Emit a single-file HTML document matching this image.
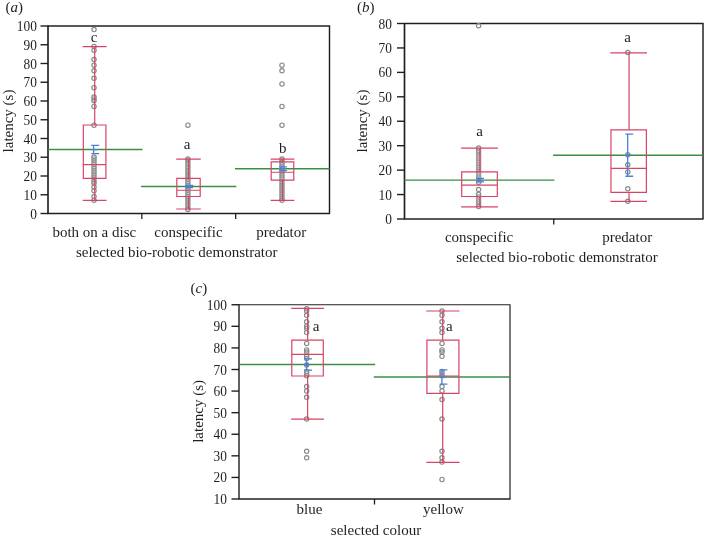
<!DOCTYPE html>
<html><head><meta charset="utf-8"><title>figure</title>
<style>
html,body{margin:0;padding:0;background:#fff;}
body{width:705px;height:538px;overflow:hidden;}
svg{display:block;font-family:"Liberation Serif",serif;fill:#231f20;}
</style></head><body>
<svg width="705" height="538" viewBox="0 0 705 538">
<defs><filter id="sf" x="0" y="0" width="705" height="538" filterUnits="userSpaceOnUse"><feGaussianBlur stdDeviation="0.35"/></filter></defs>
<rect width="705" height="538" fill="#ffffff"/>
<g filter="url(#sf)">
<path d="M48 26H329.5V213.5" fill="none" stroke="#231f20" stroke-width="1.45"/>
<path d="M48 25.5V213.5H330.0" fill="none" stroke="#231f20" stroke-width="1.65"/>
<path d="M40.5 213.50H48" stroke="#231f20" stroke-width="1.4"/>
<text transform="translate(36.9 218.50) scale(0.905 1)" font-size="14.8" text-anchor="end">0</text>
<path d="M40.5 194.75H48" stroke="#231f20" stroke-width="1.4"/>
<text transform="translate(36.9 199.75) scale(0.905 1)" font-size="14.8" text-anchor="end">10</text>
<path d="M40.5 176.00H48" stroke="#231f20" stroke-width="1.4"/>
<text transform="translate(36.9 181.00) scale(0.905 1)" font-size="14.8" text-anchor="end">20</text>
<path d="M40.5 157.25H48" stroke="#231f20" stroke-width="1.4"/>
<text transform="translate(36.9 162.25) scale(0.905 1)" font-size="14.8" text-anchor="end">30</text>
<path d="M40.5 138.50H48" stroke="#231f20" stroke-width="1.4"/>
<text transform="translate(36.9 143.50) scale(0.905 1)" font-size="14.8" text-anchor="end">40</text>
<path d="M40.5 119.75H48" stroke="#231f20" stroke-width="1.4"/>
<text transform="translate(36.9 124.75) scale(0.905 1)" font-size="14.8" text-anchor="end">50</text>
<path d="M40.5 101.00H48" stroke="#231f20" stroke-width="1.4"/>
<text transform="translate(36.9 106.00) scale(0.905 1)" font-size="14.8" text-anchor="end">60</text>
<path d="M40.5 82.25H48" stroke="#231f20" stroke-width="1.4"/>
<text transform="translate(36.9 87.25) scale(0.905 1)" font-size="14.8" text-anchor="end">70</text>
<path d="M40.5 63.50H48" stroke="#231f20" stroke-width="1.4"/>
<text transform="translate(36.9 68.50) scale(0.905 1)" font-size="14.8" text-anchor="end">80</text>
<path d="M40.5 44.75H48" stroke="#231f20" stroke-width="1.4"/>
<text transform="translate(36.9 49.75) scale(0.905 1)" font-size="14.8" text-anchor="end">90</text>
<path d="M40.5 26.00H48" stroke="#231f20" stroke-width="1.4"/>
<text transform="translate(36.9 31.00) scale(0.905 1)" font-size="14.8" text-anchor="end">100</text>
<path d="M141.83 213.5V219.0" stroke="#231f20" stroke-width="1.3"/>
<path d="M235.67 213.5V219.0" stroke="#231f20" stroke-width="1.3"/>
<text x="5.5" y="11.8" font-size="15">(<tspan font-style="italic">a</tspan>)</text>
<text transform="translate(12.5 121) rotate(-90)" font-size="15" text-anchor="middle">latency (s)</text>
<text x="176.7" y="256.5" font-size="15" text-anchor="middle">selected bio-robotic demonstrator</text>
<text x="94.3" y="236.5" font-size="15" text-anchor="middle">both on a disc</text>
<path d="M48.00 149.56H142.53" stroke="#3a8f44" stroke-width="1.45"/>
<circle cx="94.02" cy="29.55" r="2.15" fill="none" stroke="#8a8a8a" stroke-width="1.2"/>
<circle cx="94.02" cy="46.42" r="2.15" fill="none" stroke="#8a8a8a" stroke-width="1.2"/>
<circle cx="94.02" cy="50.17" r="2.15" fill="none" stroke="#8a8a8a" stroke-width="1.2"/>
<circle cx="94.02" cy="59.55" r="2.15" fill="none" stroke="#8a8a8a" stroke-width="1.2"/>
<circle cx="94.02" cy="65.17" r="2.15" fill="none" stroke="#8a8a8a" stroke-width="1.2"/>
<circle cx="94.02" cy="70.80" r="2.15" fill="none" stroke="#8a8a8a" stroke-width="1.2"/>
<circle cx="94.02" cy="78.30" r="2.15" fill="none" stroke="#8a8a8a" stroke-width="1.2"/>
<circle cx="94.02" cy="87.67" r="2.15" fill="none" stroke="#8a8a8a" stroke-width="1.2"/>
<circle cx="94.02" cy="97.05" r="2.15" fill="none" stroke="#8a8a8a" stroke-width="1.2"/>
<circle cx="94.02" cy="98.92" r="2.15" fill="none" stroke="#8a8a8a" stroke-width="1.2" stroke-opacity="0.75"/>
<circle cx="94.02" cy="100.80" r="2.15" fill="none" stroke="#8a8a8a" stroke-width="1.2"/>
<circle cx="94.02" cy="106.42" r="2.15" fill="none" stroke="#8a8a8a" stroke-width="1.2"/>
<circle cx="94.02" cy="125.17" r="2.15" fill="none" stroke="#8a8a8a" stroke-width="1.2"/>
<circle cx="94.02" cy="157.05" r="2.15" fill="none" stroke="#8a8a8a" stroke-width="1.2"/>
<circle cx="94.02" cy="158.93" r="2.15" fill="none" stroke="#8a8a8a" stroke-width="1.2" stroke-opacity="0.75"/>
<circle cx="94.02" cy="160.80" r="2.15" fill="none" stroke="#8a8a8a" stroke-width="1.2" stroke-opacity="0.75"/>
<circle cx="94.02" cy="162.68" r="2.15" fill="none" stroke="#8a8a8a" stroke-width="1.2" stroke-opacity="0.75"/>
<circle cx="94.02" cy="164.55" r="2.15" fill="none" stroke="#8a8a8a" stroke-width="1.2" stroke-opacity="0.75"/>
<circle cx="94.02" cy="166.43" r="2.15" fill="none" stroke="#8a8a8a" stroke-width="1.2" stroke-opacity="0.75"/>
<circle cx="94.02" cy="168.30" r="2.15" fill="none" stroke="#8a8a8a" stroke-width="1.2" stroke-opacity="0.75"/>
<circle cx="94.02" cy="170.18" r="2.15" fill="none" stroke="#8a8a8a" stroke-width="1.2" stroke-opacity="0.75"/>
<circle cx="94.02" cy="172.05" r="2.15" fill="none" stroke="#8a8a8a" stroke-width="1.2" stroke-opacity="0.75"/>
<circle cx="94.02" cy="173.93" r="2.15" fill="none" stroke="#8a8a8a" stroke-width="1.2" stroke-opacity="0.75"/>
<circle cx="94.02" cy="175.80" r="2.15" fill="none" stroke="#8a8a8a" stroke-width="1.2" stroke-opacity="0.75"/>
<circle cx="94.02" cy="177.68" r="2.15" fill="none" stroke="#8a8a8a" stroke-width="1.2" stroke-opacity="0.75"/>
<circle cx="94.02" cy="179.55" r="2.15" fill="none" stroke="#8a8a8a" stroke-width="1.2" stroke-opacity="0.75"/>
<circle cx="94.02" cy="181.43" r="2.15" fill="none" stroke="#8a8a8a" stroke-width="1.2" stroke-opacity="0.75"/>
<circle cx="94.02" cy="183.30" r="2.15" fill="none" stroke="#8a8a8a" stroke-width="1.2"/>
<circle cx="94.02" cy="187.05" r="2.15" fill="none" stroke="#8a8a8a" stroke-width="1.2"/>
<circle cx="94.02" cy="190.80" r="2.15" fill="none" stroke="#8a8a8a" stroke-width="1.2"/>
<circle cx="94.02" cy="196.43" r="2.15" fill="none" stroke="#8a8a8a" stroke-width="1.2"/>
<circle cx="94.02" cy="200.18" r="2.15" fill="none" stroke="#8a8a8a" stroke-width="1.2"/>
<path d="M83.32 125.00H105.92V178.44H83.32Z M83.32 164.56H105.92 M82.72 46.62H106.52 M82.72 200.38H106.52 M94.72 46.62V125.00 M94.72 178.44V200.38" fill="none" stroke="#d64566" stroke-width="1.2"/>
<path d="M93.62 145.44V153.69 M91.32 145.44H99.12 M91.32 153.69H99.12 M91.62 149.56H97.62" fill="none" stroke="#4a80d8" stroke-width="1.3"/>
<text x="94" y="41.8" font-size="15" text-anchor="middle">c</text>
<text x="188.5" y="236.5" font-size="15" text-anchor="middle">conspecific</text>
<path d="M141.13 186.50H236.37" stroke="#3a8f44" stroke-width="1.45"/>
<circle cx="187.90" cy="125.17" r="2.15" fill="none" stroke="#8a8a8a" stroke-width="1.2"/>
<circle cx="187.90" cy="158.93" r="2.15" fill="none" stroke="#8a8a8a" stroke-width="1.2"/>
<circle cx="187.90" cy="160.80" r="2.15" fill="none" stroke="#8a8a8a" stroke-width="1.2" stroke-opacity="0.75"/>
<circle cx="187.90" cy="162.68" r="2.15" fill="none" stroke="#8a8a8a" stroke-width="1.2" stroke-opacity="0.75"/>
<circle cx="187.90" cy="164.55" r="2.15" fill="none" stroke="#8a8a8a" stroke-width="1.2" stroke-opacity="0.75"/>
<circle cx="187.90" cy="166.43" r="2.15" fill="none" stroke="#8a8a8a" stroke-width="1.2" stroke-opacity="0.75"/>
<circle cx="187.90" cy="168.30" r="2.15" fill="none" stroke="#8a8a8a" stroke-width="1.2" stroke-opacity="0.75"/>
<circle cx="187.90" cy="170.18" r="2.15" fill="none" stroke="#8a8a8a" stroke-width="1.2" stroke-opacity="0.75"/>
<circle cx="187.90" cy="172.05" r="2.15" fill="none" stroke="#8a8a8a" stroke-width="1.2" stroke-opacity="0.75"/>
<circle cx="187.90" cy="173.93" r="2.15" fill="none" stroke="#8a8a8a" stroke-width="1.2" stroke-opacity="0.75"/>
<circle cx="187.90" cy="175.80" r="2.15" fill="none" stroke="#8a8a8a" stroke-width="1.2" stroke-opacity="0.75"/>
<circle cx="187.90" cy="177.68" r="2.15" fill="none" stroke="#8a8a8a" stroke-width="1.2" stroke-opacity="0.75"/>
<circle cx="187.90" cy="179.55" r="2.15" fill="none" stroke="#8a8a8a" stroke-width="1.2" stroke-opacity="0.75"/>
<circle cx="187.90" cy="181.43" r="2.15" fill="none" stroke="#8a8a8a" stroke-width="1.2" stroke-opacity="0.75"/>
<circle cx="187.90" cy="183.30" r="2.15" fill="none" stroke="#8a8a8a" stroke-width="1.2" stroke-opacity="0.75"/>
<circle cx="187.90" cy="185.18" r="2.15" fill="none" stroke="#8a8a8a" stroke-width="1.2" stroke-opacity="0.75"/>
<circle cx="187.90" cy="187.05" r="2.15" fill="none" stroke="#8a8a8a" stroke-width="1.2" stroke-opacity="0.75"/>
<circle cx="187.90" cy="188.93" r="2.15" fill="none" stroke="#8a8a8a" stroke-width="1.2" stroke-opacity="0.75"/>
<circle cx="187.90" cy="190.80" r="2.15" fill="none" stroke="#8a8a8a" stroke-width="1.2" stroke-opacity="0.75"/>
<circle cx="187.90" cy="192.68" r="2.15" fill="none" stroke="#8a8a8a" stroke-width="1.2" stroke-opacity="0.75"/>
<circle cx="187.90" cy="194.55" r="2.15" fill="none" stroke="#8a8a8a" stroke-width="1.2" stroke-opacity="0.75"/>
<circle cx="187.90" cy="196.43" r="2.15" fill="none" stroke="#8a8a8a" stroke-width="1.2" stroke-opacity="0.75"/>
<circle cx="187.90" cy="198.30" r="2.15" fill="none" stroke="#8a8a8a" stroke-width="1.2" stroke-opacity="0.75"/>
<circle cx="187.90" cy="200.18" r="2.15" fill="none" stroke="#8a8a8a" stroke-width="1.2" stroke-opacity="0.75"/>
<circle cx="187.90" cy="202.05" r="2.15" fill="none" stroke="#8a8a8a" stroke-width="1.2" stroke-opacity="0.75"/>
<circle cx="187.90" cy="203.93" r="2.15" fill="none" stroke="#8a8a8a" stroke-width="1.2" stroke-opacity="0.75"/>
<circle cx="187.90" cy="205.80" r="2.15" fill="none" stroke="#8a8a8a" stroke-width="1.2" stroke-opacity="0.75"/>
<circle cx="187.90" cy="207.68" r="2.15" fill="none" stroke="#8a8a8a" stroke-width="1.2" stroke-opacity="0.75"/>
<circle cx="187.90" cy="209.55" r="2.15" fill="none" stroke="#8a8a8a" stroke-width="1.2"/>
<path d="M176.80 178.44H200.20V196.49H176.80Z M176.80 190.25H200.20 M176.20 159.12H200.80 M176.20 209.00H200.80 M188.60 159.12V178.44 M188.60 196.49V209.00" fill="none" stroke="#d64566" stroke-width="1.2"/>
<path d="M187.50 185.38V187.62 M185.20 185.38H193.00 M185.20 187.62H193.00 M185.50 186.50H191.50" fill="none" stroke="#4a80d8" stroke-width="1.3"/>
<text x="187" y="148.9" font-size="15" text-anchor="middle">a</text>
<text x="281.3" y="236.5" font-size="15" text-anchor="middle">predator</text>
<path d="M234.97 168.69H329.50" stroke="#3a8f44" stroke-width="1.45"/>
<circle cx="281.98" cy="65.17" r="2.15" fill="none" stroke="#8a8a8a" stroke-width="1.2"/>
<circle cx="281.98" cy="70.80" r="2.15" fill="none" stroke="#8a8a8a" stroke-width="1.2"/>
<circle cx="281.98" cy="83.92" r="2.15" fill="none" stroke="#8a8a8a" stroke-width="1.2"/>
<circle cx="281.98" cy="106.42" r="2.15" fill="none" stroke="#8a8a8a" stroke-width="1.2"/>
<circle cx="281.98" cy="125.17" r="2.15" fill="none" stroke="#8a8a8a" stroke-width="1.2"/>
<circle cx="281.98" cy="158.93" r="2.15" fill="none" stroke="#8a8a8a" stroke-width="1.2"/>
<circle cx="281.98" cy="160.80" r="2.15" fill="none" stroke="#8a8a8a" stroke-width="1.2" stroke-opacity="0.75"/>
<circle cx="281.98" cy="162.68" r="2.15" fill="none" stroke="#8a8a8a" stroke-width="1.2" stroke-opacity="0.75"/>
<circle cx="281.98" cy="164.55" r="2.15" fill="none" stroke="#8a8a8a" stroke-width="1.2" stroke-opacity="0.75"/>
<circle cx="281.98" cy="166.43" r="2.15" fill="none" stroke="#8a8a8a" stroke-width="1.2" stroke-opacity="0.75"/>
<circle cx="281.98" cy="168.30" r="2.15" fill="none" stroke="#8a8a8a" stroke-width="1.2" stroke-opacity="0.75"/>
<circle cx="281.98" cy="170.18" r="2.15" fill="none" stroke="#8a8a8a" stroke-width="1.2" stroke-opacity="0.75"/>
<circle cx="281.98" cy="172.05" r="2.15" fill="none" stroke="#8a8a8a" stroke-width="1.2" stroke-opacity="0.75"/>
<circle cx="281.98" cy="173.93" r="2.15" fill="none" stroke="#8a8a8a" stroke-width="1.2" stroke-opacity="0.75"/>
<circle cx="281.98" cy="175.80" r="2.15" fill="none" stroke="#8a8a8a" stroke-width="1.2" stroke-opacity="0.75"/>
<circle cx="281.98" cy="177.68" r="2.15" fill="none" stroke="#8a8a8a" stroke-width="1.2" stroke-opacity="0.75"/>
<circle cx="281.98" cy="179.55" r="2.15" fill="none" stroke="#8a8a8a" stroke-width="1.2" stroke-opacity="0.75"/>
<circle cx="281.98" cy="181.43" r="2.15" fill="none" stroke="#8a8a8a" stroke-width="1.2" stroke-opacity="0.75"/>
<circle cx="281.98" cy="183.30" r="2.15" fill="none" stroke="#8a8a8a" stroke-width="1.2" stroke-opacity="0.75"/>
<circle cx="281.98" cy="185.18" r="2.15" fill="none" stroke="#8a8a8a" stroke-width="1.2" stroke-opacity="0.75"/>
<circle cx="281.98" cy="187.05" r="2.15" fill="none" stroke="#8a8a8a" stroke-width="1.2" stroke-opacity="0.75"/>
<circle cx="281.98" cy="188.93" r="2.15" fill="none" stroke="#8a8a8a" stroke-width="1.2" stroke-opacity="0.75"/>
<circle cx="281.98" cy="190.80" r="2.15" fill="none" stroke="#8a8a8a" stroke-width="1.2" stroke-opacity="0.75"/>
<circle cx="281.98" cy="192.68" r="2.15" fill="none" stroke="#8a8a8a" stroke-width="1.2" stroke-opacity="0.75"/>
<circle cx="281.98" cy="194.55" r="2.15" fill="none" stroke="#8a8a8a" stroke-width="1.2" stroke-opacity="0.75"/>
<circle cx="281.98" cy="196.43" r="2.15" fill="none" stroke="#8a8a8a" stroke-width="1.2" stroke-opacity="0.75"/>
<circle cx="281.98" cy="198.30" r="2.15" fill="none" stroke="#8a8a8a" stroke-width="1.2" stroke-opacity="0.75"/>
<circle cx="281.98" cy="200.18" r="2.15" fill="none" stroke="#8a8a8a" stroke-width="1.2"/>
<path d="M271.18 161.94H293.78V180.22H271.18Z M271.18 172.25H293.78 M270.58 159.12H294.38 M270.58 200.38H294.38 M282.48 159.12V161.94 M282.48 180.22V200.38" fill="none" stroke="#d64566" stroke-width="1.2"/>
<path d="M281.48 166.81V170.56 M279.18 166.81H286.98 M279.18 170.56H286.98 M279.48 168.69H285.48" fill="none" stroke="#4a80d8" stroke-width="1.3"/>
<text x="282.7" y="153.3" font-size="15" text-anchor="middle">b</text>
<path d="M404.5 23.5H703V219" fill="none" stroke="#231f20" stroke-width="1.45"/>
<path d="M404.5 23.0V219H703.5" fill="none" stroke="#231f20" stroke-width="1.65"/>
<path d="M397.0 219.00H404.5" stroke="#231f20" stroke-width="1.4"/>
<text transform="translate(391.9 224.00) scale(0.905 1)" font-size="14.8" text-anchor="end">0</text>
<path d="M397.0 194.56H404.5" stroke="#231f20" stroke-width="1.4"/>
<text transform="translate(391.9 199.56) scale(0.905 1)" font-size="14.8" text-anchor="end">10</text>
<path d="M397.0 170.12H404.5" stroke="#231f20" stroke-width="1.4"/>
<text transform="translate(391.9 175.12) scale(0.905 1)" font-size="14.8" text-anchor="end">20</text>
<path d="M397.0 145.69H404.5" stroke="#231f20" stroke-width="1.4"/>
<text transform="translate(391.9 150.69) scale(0.905 1)" font-size="14.8" text-anchor="end">30</text>
<path d="M397.0 121.25H404.5" stroke="#231f20" stroke-width="1.4"/>
<text transform="translate(391.9 126.25) scale(0.905 1)" font-size="14.8" text-anchor="end">40</text>
<path d="M397.0 96.81H404.5" stroke="#231f20" stroke-width="1.4"/>
<text transform="translate(391.9 101.81) scale(0.905 1)" font-size="14.8" text-anchor="end">50</text>
<path d="M397.0 72.38H404.5" stroke="#231f20" stroke-width="1.4"/>
<text transform="translate(391.9 77.38) scale(0.905 1)" font-size="14.8" text-anchor="end">60</text>
<path d="M397.0 47.94H404.5" stroke="#231f20" stroke-width="1.4"/>
<text transform="translate(391.9 52.94) scale(0.905 1)" font-size="14.8" text-anchor="end">70</text>
<path d="M397.0 23.50H404.5" stroke="#231f20" stroke-width="1.4"/>
<text transform="translate(391.9 28.50) scale(0.905 1)" font-size="14.8" text-anchor="end">80</text>
<path d="M553.75 219V224.5" stroke="#231f20" stroke-width="1.3"/>
<text x="357" y="11.8" font-size="15">(<tspan font-style="italic">b</tspan>)</text>
<text transform="translate(366.8 121) rotate(-90)" font-size="15" text-anchor="middle">latency (s)</text>
<text x="557" y="262.3" font-size="15" text-anchor="middle">selected bio-robotic demonstrator</text>
<text x="479.1" y="241.5" font-size="15" text-anchor="middle">conspecific</text>
<path d="M404.50 180.14H554.45" stroke="#3a8f44" stroke-width="1.45"/>
<circle cx="478.62" cy="25.74" r="2.15" fill="none" stroke="#8a8a8a" stroke-width="1.2"/>
<circle cx="478.62" cy="147.93" r="2.15" fill="none" stroke="#8a8a8a" stroke-width="1.2"/>
<circle cx="478.62" cy="150.38" r="2.15" fill="none" stroke="#8a8a8a" stroke-width="1.2" stroke-opacity="0.75"/>
<circle cx="478.62" cy="152.82" r="2.15" fill="none" stroke="#8a8a8a" stroke-width="1.2" stroke-opacity="0.75"/>
<circle cx="478.62" cy="155.26" r="2.15" fill="none" stroke="#8a8a8a" stroke-width="1.2" stroke-opacity="0.75"/>
<circle cx="478.62" cy="157.71" r="2.15" fill="none" stroke="#8a8a8a" stroke-width="1.2" stroke-opacity="0.75"/>
<circle cx="478.62" cy="160.15" r="2.15" fill="none" stroke="#8a8a8a" stroke-width="1.2" stroke-opacity="0.75"/>
<circle cx="478.62" cy="162.59" r="2.15" fill="none" stroke="#8a8a8a" stroke-width="1.2" stroke-opacity="0.75"/>
<circle cx="478.62" cy="165.04" r="2.15" fill="none" stroke="#8a8a8a" stroke-width="1.2" stroke-opacity="0.75"/>
<circle cx="478.62" cy="167.48" r="2.15" fill="none" stroke="#8a8a8a" stroke-width="1.2" stroke-opacity="0.75"/>
<circle cx="478.62" cy="169.93" r="2.15" fill="none" stroke="#8a8a8a" stroke-width="1.2" stroke-opacity="0.75"/>
<circle cx="478.62" cy="172.37" r="2.15" fill="none" stroke="#8a8a8a" stroke-width="1.2" stroke-opacity="0.75"/>
<circle cx="478.62" cy="174.81" r="2.15" fill="none" stroke="#8a8a8a" stroke-width="1.2" stroke-opacity="0.75"/>
<circle cx="478.62" cy="177.26" r="2.15" fill="none" stroke="#8a8a8a" stroke-width="1.2" stroke-opacity="0.75"/>
<circle cx="478.62" cy="179.70" r="2.15" fill="none" stroke="#8a8a8a" stroke-width="1.2" stroke-opacity="0.75"/>
<circle cx="478.62" cy="182.14" r="2.15" fill="none" stroke="#8a8a8a" stroke-width="1.2"/>
<circle cx="478.62" cy="189.48" r="2.15" fill="none" stroke="#8a8a8a" stroke-width="1.2"/>
<circle cx="478.62" cy="194.36" r="2.15" fill="none" stroke="#8a8a8a" stroke-width="1.2"/>
<circle cx="478.62" cy="196.81" r="2.15" fill="none" stroke="#8a8a8a" stroke-width="1.2" stroke-opacity="0.75"/>
<circle cx="478.62" cy="199.25" r="2.15" fill="none" stroke="#8a8a8a" stroke-width="1.2" stroke-opacity="0.75"/>
<circle cx="478.62" cy="201.69" r="2.15" fill="none" stroke="#8a8a8a" stroke-width="1.2" stroke-opacity="0.75"/>
<circle cx="478.62" cy="204.14" r="2.15" fill="none" stroke="#8a8a8a" stroke-width="1.2" stroke-opacity="0.75"/>
<circle cx="478.62" cy="206.58" r="2.15" fill="none" stroke="#8a8a8a" stroke-width="1.2"/>
<path d="M461.72 171.84H497.32V196.52H461.72Z M461.72 185.03H497.32 M461.12 148.13H497.93 M461.12 206.78H497.93 M479.92 148.13V171.84 M479.92 196.52V206.78" fill="none" stroke="#d64566" stroke-width="1.2"/>
<path d="M478.52 178.43V181.85 M476.22 178.43H484.02 M476.22 181.85H484.02 M476.52 180.14H482.52" fill="none" stroke="#4a80d8" stroke-width="1.3"/>
<text x="479.5" y="136.0" font-size="15" text-anchor="middle">a</text>
<text x="627.2" y="241.5" font-size="15" text-anchor="middle">predator</text>
<path d="M553.05 155.22H703.00" stroke="#3a8f44" stroke-width="1.45"/>
<circle cx="627.77" cy="52.62" r="2.15" fill="none" stroke="#8a8a8a" stroke-width="1.2"/>
<circle cx="627.77" cy="154.77" r="2.15" fill="none" stroke="#8a8a8a" stroke-width="1.2"/>
<circle cx="627.77" cy="164.79" r="2.15" fill="none" stroke="#8a8a8a" stroke-width="1.2"/>
<circle cx="627.77" cy="171.88" r="2.15" fill="none" stroke="#8a8a8a" stroke-width="1.2"/>
<circle cx="627.77" cy="188.74" r="2.15" fill="none" stroke="#8a8a8a" stroke-width="1.2"/>
<circle cx="627.77" cy="201.21" r="2.15" fill="none" stroke="#8a8a8a" stroke-width="1.2"/>
<path d="M610.97 129.80H646.38V192.36H610.97Z M610.97 168.41H646.38 M610.37 52.82H646.98 M610.37 201.41H646.98 M629.07 52.82V129.80 M629.07 192.36V201.41" fill="none" stroke="#d64566" stroke-width="1.2"/>
<path d="M627.67 134.20V176.23 M625.38 134.20H633.17 M625.38 176.23H633.17 M625.67 155.22H631.67" fill="none" stroke="#4a80d8" stroke-width="1.3"/>
<text x="627.7" y="42.4" font-size="15" text-anchor="middle">a</text>
<path d="M239 304.75H510V499" fill="none" stroke="#231f20" stroke-width="1.2"/>
<path d="M239 304.25V499H510.5" fill="none" stroke="#231f20" stroke-width="1.4"/>
<path d="M231.5 499.00H239" stroke="#231f20" stroke-width="1.4"/>
<text transform="translate(226.9 504.00) scale(0.905 1)" font-size="14.8" text-anchor="end">10</text>
<path d="M231.5 477.42H239" stroke="#231f20" stroke-width="1.4"/>
<text transform="translate(226.9 482.42) scale(0.905 1)" font-size="14.8" text-anchor="end">20</text>
<path d="M231.5 455.83H239" stroke="#231f20" stroke-width="1.4"/>
<text transform="translate(226.9 460.83) scale(0.905 1)" font-size="14.8" text-anchor="end">30</text>
<path d="M231.5 434.25H239" stroke="#231f20" stroke-width="1.4"/>
<text transform="translate(226.9 439.25) scale(0.905 1)" font-size="14.8" text-anchor="end">40</text>
<path d="M231.5 412.67H239" stroke="#231f20" stroke-width="1.4"/>
<text transform="translate(226.9 417.67) scale(0.905 1)" font-size="14.8" text-anchor="end">50</text>
<path d="M231.5 391.08H239" stroke="#231f20" stroke-width="1.4"/>
<text transform="translate(226.9 396.08) scale(0.905 1)" font-size="14.8" text-anchor="end">60</text>
<path d="M231.5 369.50H239" stroke="#231f20" stroke-width="1.4"/>
<text transform="translate(226.9 374.50) scale(0.905 1)" font-size="14.8" text-anchor="end">70</text>
<path d="M231.5 347.92H239" stroke="#231f20" stroke-width="1.4"/>
<text transform="translate(226.9 352.92) scale(0.905 1)" font-size="14.8" text-anchor="end">80</text>
<path d="M231.5 326.33H239" stroke="#231f20" stroke-width="1.4"/>
<text transform="translate(226.9 331.33) scale(0.905 1)" font-size="14.8" text-anchor="end">90</text>
<path d="M231.5 304.75H239" stroke="#231f20" stroke-width="1.4"/>
<text transform="translate(226.9 309.75) scale(0.905 1)" font-size="14.8" text-anchor="end">100</text>
<path d="M374.50 499V504.5" stroke="#231f20" stroke-width="1.3"/>
<text x="190.5" y="293.3" font-size="15">(<tspan font-style="italic">c</tspan>)</text>
<text transform="translate(202.5 411.4) rotate(-90)" font-size="15" text-anchor="middle">latency (s)</text>
<text x="376" y="534.8" font-size="15" text-anchor="middle">selected colour</text>
<text x="309.5" y="514.3" font-size="15" text-anchor="middle">blue</text>
<path d="M239.00 364.54H375.20" stroke="#3a8f44" stroke-width="1.45"/>
<circle cx="306.65" cy="308.87" r="2.15" fill="none" stroke="#8a8a8a" stroke-width="1.2"/>
<circle cx="306.65" cy="311.03" r="2.15" fill="none" stroke="#8a8a8a" stroke-width="1.2"/>
<circle cx="306.65" cy="315.34" r="2.15" fill="none" stroke="#8a8a8a" stroke-width="1.2"/>
<circle cx="306.65" cy="321.82" r="2.15" fill="none" stroke="#8a8a8a" stroke-width="1.2"/>
<circle cx="306.65" cy="326.13" r="2.15" fill="none" stroke="#8a8a8a" stroke-width="1.2"/>
<circle cx="306.65" cy="328.29" r="2.15" fill="none" stroke="#8a8a8a" stroke-width="1.2"/>
<circle cx="306.65" cy="332.61" r="2.15" fill="none" stroke="#8a8a8a" stroke-width="1.2"/>
<circle cx="306.65" cy="343.40" r="2.15" fill="none" stroke="#8a8a8a" stroke-width="1.2"/>
<circle cx="306.65" cy="349.88" r="2.15" fill="none" stroke="#8a8a8a" stroke-width="1.2"/>
<circle cx="306.65" cy="352.03" r="2.15" fill="none" stroke="#8a8a8a" stroke-width="1.2"/>
<circle cx="306.65" cy="356.35" r="2.15" fill="none" stroke="#8a8a8a" stroke-width="1.2"/>
<circle cx="306.65" cy="358.51" r="2.15" fill="none" stroke="#8a8a8a" stroke-width="1.2"/>
<circle cx="306.65" cy="364.98" r="2.15" fill="none" stroke="#8a8a8a" stroke-width="1.2"/>
<circle cx="306.65" cy="371.46" r="2.15" fill="none" stroke="#8a8a8a" stroke-width="1.2"/>
<circle cx="306.65" cy="373.62" r="2.15" fill="none" stroke="#8a8a8a" stroke-width="1.2" stroke-opacity="0.75"/>
<circle cx="306.65" cy="375.78" r="2.15" fill="none" stroke="#8a8a8a" stroke-width="1.2"/>
<circle cx="306.65" cy="386.57" r="2.15" fill="none" stroke="#8a8a8a" stroke-width="1.2"/>
<circle cx="306.65" cy="390.88" r="2.15" fill="none" stroke="#8a8a8a" stroke-width="1.2"/>
<circle cx="306.65" cy="397.36" r="2.15" fill="none" stroke="#8a8a8a" stroke-width="1.2"/>
<circle cx="306.65" cy="418.94" r="2.15" fill="none" stroke="#8a8a8a" stroke-width="1.2"/>
<circle cx="306.65" cy="451.32" r="2.15" fill="none" stroke="#8a8a8a" stroke-width="1.2"/>
<circle cx="306.65" cy="457.79" r="2.15" fill="none" stroke="#8a8a8a" stroke-width="1.2"/>
<path d="M291.80 340.15H323.30V375.98H291.80Z M291.80 354.39H323.30 M291.20 308.42H323.90 M291.20 419.14H323.90 M307.65 308.42V340.15 M307.65 375.98V419.14" fill="none" stroke="#d64566" stroke-width="1.2"/>
<path d="M306.55 358.92V370.15 M304.25 358.92H312.05 M304.25 370.15H312.05 M304.55 364.54H306.55" fill="none" stroke="#4a80d8" stroke-width="1.3"/>
<circle cx="306.85" cy="364.54" r="2.1" fill="#4a80d8"/>
<text x="316" y="330.8" font-size="15" text-anchor="middle">a</text>
<text x="443.4" y="514.3" font-size="15" text-anchor="middle">yellow</text>
<path d="M373.80 377.05H510.00" stroke="#3a8f44" stroke-width="1.45"/>
<circle cx="442.00" cy="311.03" r="2.15" fill="none" stroke="#8a8a8a" stroke-width="1.2"/>
<circle cx="442.00" cy="315.34" r="2.15" fill="none" stroke="#8a8a8a" stroke-width="1.2"/>
<circle cx="442.00" cy="321.82" r="2.15" fill="none" stroke="#8a8a8a" stroke-width="1.2"/>
<circle cx="442.00" cy="328.29" r="2.15" fill="none" stroke="#8a8a8a" stroke-width="1.2"/>
<circle cx="442.00" cy="332.61" r="2.15" fill="none" stroke="#8a8a8a" stroke-width="1.2"/>
<circle cx="442.00" cy="343.40" r="2.15" fill="none" stroke="#8a8a8a" stroke-width="1.2"/>
<circle cx="442.00" cy="349.88" r="2.15" fill="none" stroke="#8a8a8a" stroke-width="1.2"/>
<circle cx="442.00" cy="352.03" r="2.15" fill="none" stroke="#8a8a8a" stroke-width="1.2"/>
<circle cx="442.00" cy="356.35" r="2.15" fill="none" stroke="#8a8a8a" stroke-width="1.2"/>
<circle cx="442.00" cy="371.46" r="2.15" fill="none" stroke="#8a8a8a" stroke-width="1.2"/>
<circle cx="442.00" cy="373.62" r="2.15" fill="none" stroke="#8a8a8a" stroke-width="1.2" stroke-opacity="0.75"/>
<circle cx="442.00" cy="375.78" r="2.15" fill="none" stroke="#8a8a8a" stroke-width="1.2"/>
<circle cx="442.00" cy="386.57" r="2.15" fill="none" stroke="#8a8a8a" stroke-width="1.2"/>
<circle cx="442.00" cy="390.88" r="2.15" fill="none" stroke="#8a8a8a" stroke-width="1.2"/>
<circle cx="442.00" cy="399.52" r="2.15" fill="none" stroke="#8a8a8a" stroke-width="1.2"/>
<circle cx="442.00" cy="418.94" r="2.15" fill="none" stroke="#8a8a8a" stroke-width="1.2"/>
<circle cx="442.00" cy="451.32" r="2.15" fill="none" stroke="#8a8a8a" stroke-width="1.2"/>
<circle cx="442.00" cy="457.79" r="2.15" fill="none" stroke="#8a8a8a" stroke-width="1.2"/>
<circle cx="442.00" cy="462.11" r="2.15" fill="none" stroke="#8a8a8a" stroke-width="1.2"/>
<circle cx="442.00" cy="479.38" r="2.15" fill="none" stroke="#8a8a8a" stroke-width="1.2"/>
<path d="M426.90 340.15H458.90V393.46H426.90Z M426.90 375.98H458.90 M426.30 311.01H459.50 M426.30 462.31H459.50 M442.70 311.01V340.15 M442.70 393.46V462.31" fill="none" stroke="#d64566" stroke-width="1.2"/>
<path d="M441.90 369.93V384.18 M439.60 369.93H447.40 M439.60 384.18H447.40 M439.90 377.05H445.90" fill="none" stroke="#4a80d8" stroke-width="1.3"/>
<text x="449.3" y="330.8" font-size="15" text-anchor="middle">a</text>
</g>
</svg>
</body></html>
